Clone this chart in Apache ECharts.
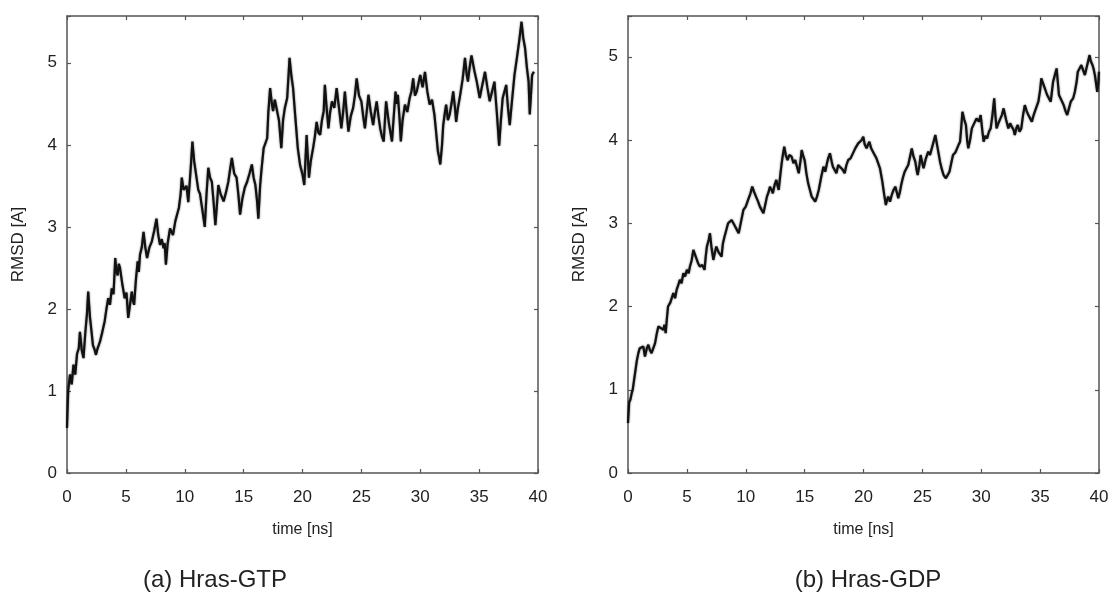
<!DOCTYPE html>
<html>
<head>
<meta charset="utf-8">
<title>RMSD Hras</title>
<script src="https://cdn.jsdelivr.net/npm/echarts@6/dist/echarts.min.js"></script>
<style>
  html, body { margin: 0; padding: 0; background: #fff; }
  #rmsd { width: 1113px; height: 600px; }
</style>
</head>
<body>
<div id="rmsd"></div>
<script>
  // [time ns, RMSD A]
  const gtpPoints = [
    [0,0.55],[0.1,1.0],[0.25,1.2],[0.4,1.08],[0.55,1.32],[0.7,1.2],[0.85,1.45],[1.0,1.52],[1.1,1.72],[1.25,1.5],
    [1.4,1.4],[1.55,1.7],[1.7,1.95],[1.8,2.21],[1.95,1.9],[2.1,1.7],[2.2,1.56],[2.35,1.5],[2.46,1.44],[2.6,1.52],
    [2.8,1.6],[3.0,1.72],[3.2,1.85],[3.35,2.0],[3.5,2.13],[3.65,2.05],[3.8,2.25],[3.95,2.18],[4.1,2.62],[4.2,2.45],
    [4.3,2.41],[4.4,2.55],[4.5,2.5],[4.7,2.3],[4.9,2.13],[5.05,2.2],[5.2,1.89],[5.35,2.05],[5.5,2.21],[5.6,2.1],
    [5.7,2.05],[5.85,2.35],[6.0,2.58],[6.1,2.45],[6.2,2.66],[6.35,2.75],[6.5,2.94],[6.65,2.75],[6.8,2.62],[7.0,2.75],
    [7.2,2.82],[7.4,2.95],[7.6,3.1],[7.75,2.9],[7.9,2.78],[8.05,2.85],[8.2,2.74],[8.3,2.8],[8.4,2.54],[8.55,2.8],
    [8.75,2.98],[9.0,2.9],[9.2,3.07],[9.35,3.15],[9.5,3.23],[9.65,3.4],[9.75,3.6],[9.9,3.45],[10.0,3.43],[10.15,3.5],
    [10.3,3.3],[10.5,3.7],[10.65,4.04],[10.8,3.8],[11.0,3.6],[11.15,3.45],[11.3,3.4],[11.5,3.2],[11.7,3.0],[11.85,3.4],
    [12.0,3.72],[12.15,3.6],[12.3,3.55],[12.45,3.3],[12.6,3.02],[12.75,3.3],[12.85,3.51],[13.05,3.4],[13.3,3.31],[13.5,3.42],
    [13.7,3.55],[13.85,3.7],[14.0,3.84],[14.2,3.65],[14.4,3.6],[14.55,3.4],[14.7,3.15],[14.9,3.35],[15.1,3.48],[15.3,3.55],
    [15.5,3.65],[15.7,3.76],[15.85,3.6],[16.0,3.51],[16.15,3.3],[16.25,3.1],[16.4,3.5],[16.5,3.67],[16.7,3.96],[17.0,4.08],
    [17.1,4.4],[17.25,4.69],[17.4,4.5],[17.5,4.41],[17.65,4.55],[17.8,4.53],[18.0,4.3],[18.2,3.96],[18.35,4.3],[18.5,4.45],
    [18.7,4.57],[18.9,5.06],[19.05,4.85],[19.2,4.69],[19.35,4.41],[19.6,3.96],[19.8,3.75],[20.0,3.64],[20.15,3.51],[20.35,4.12],
    [20.55,3.6],[20.7,3.8],[20.9,3.96],[21.05,4.1],[21.2,4.28],[21.35,4.15],[21.5,4.12],[21.65,4.3],[21.8,4.41],[21.9,4.73],
    [22.05,4.45],[22.2,4.2],[22.35,4.4],[22.5,4.53],[22.7,4.45],[22.9,4.69],[23.1,4.45],[23.3,4.2],[23.45,4.4],[23.6,4.65],
    [23.75,4.4],[23.9,4.16],[24.1,4.35],[24.3,4.45],[24.45,4.6],[24.6,4.81],[24.8,4.6],[25.0,4.53],[25.15,4.35],[25.3,4.2],
    [25.45,4.4],[25.6,4.61],[25.8,4.4],[26.0,4.24],[26.15,4.4],[26.3,4.53],[26.45,4.35],[26.6,4.2],[26.75,4.1],[26.9,4.04],
    [27.0,4.3],[27.1,4.53],[27.35,4.25],[27.6,4.04],[27.75,4.35],[27.9,4.65],[28.0,4.5],[28.1,4.61],[28.25,4.3],[28.35,4.04],
    [28.5,4.3],[28.7,4.49],[28.9,4.4],[29.1,4.57],[29.25,4.65],[29.4,4.81],[29.55,4.6],[29.7,4.65],[29.85,4.75],[30.0,4.85],
    [30.2,4.7],[30.4,4.89],[30.6,4.65],[30.8,4.49],[31.0,4.55],[31.2,4.37],[31.35,4.15],[31.5,3.92],[31.6,3.85],[31.7,3.76],
    [31.85,4.0],[31.95,4.24],[32.1,4.4],[32.2,4.49],[32.35,4.3],[32.5,4.37],[32.65,4.5],[32.8,4.65],[32.95,4.45],[33.05,4.28],
    [33.2,4.45],[33.35,4.57],[33.6,4.8],[33.8,5.06],[33.95,4.85],[34.05,4.77],[34.2,4.95],[34.35,5.09],[34.6,4.9],[34.8,4.77],
    [34.95,4.65],[35.05,4.57],[35.3,4.75],[35.5,4.89],[35.7,4.7],[35.9,4.53],[36.1,4.65],[36.3,4.77],[36.5,4.4],[36.7,3.99],
    [36.85,4.3],[37.0,4.57],[37.15,4.65],[37.3,4.73],[37.45,4.45],[37.6,4.24],[37.8,4.55],[38.0,4.85],[38.2,5.05],[38.4,5.26],
    [38.6,5.5],[38.75,5.3],[38.9,5.18],[39.05,4.95],[39.2,4.77],[39.3,4.37],[39.4,4.6],[39.5,4.85],[39.65,4.89]
  ];

  const gdpPoints = [
    [0,0.6],[0.1,0.85],[0.2,0.88],[0.3,0.95],[0.4,1.0],[0.5,1.1],[0.6,1.2],[0.75,1.35],[0.88,1.44],[1.0,1.5],
    [1.16,1.48],[1.3,1.52],[1.44,1.4],[1.6,1.5],[1.73,1.54],[1.85,1.48],[2.0,1.44],[2.15,1.5],[2.3,1.56],[2.45,1.68],
    [2.58,1.76],[2.8,1.74],[3.0,1.72],[3.1,1.78],[3.2,1.68],[3.3,1.85],[3.4,2.0],[3.6,2.05],[3.85,2.16],[4.0,2.1],
    [4.13,2.2],[4.25,2.25],[4.4,2.32],[4.55,2.28],[4.7,2.4],[4.85,2.36],[5.0,2.44],[5.15,2.4],[5.26,2.48],[5.4,2.55],
    [5.55,2.68],[5.7,2.62],[5.8,2.6],[5.95,2.52],[6.1,2.48],[6.3,2.5],[6.5,2.44],[6.6,2.6],[6.7,2.72],[6.85,2.8],
    [6.96,2.88],[7.1,2.7],[7.25,2.56],[7.4,2.66],[7.5,2.72],[7.7,2.65],[7.95,2.6],[8.05,2.75],[8.2,2.84],[8.35,2.92],
    [8.5,3.0],[8.65,2.98],[8.8,3.04],[8.95,3.0],[9.1,2.96],[9.25,2.92],[9.4,2.88],[9.6,3.02],[9.8,3.16],[10.0,3.2],
    [10.2,3.28],[10.4,3.36],[10.55,3.44],[10.7,3.38],[10.87,3.32],[11.05,3.26],[11.2,3.2],[11.35,3.18],[11.5,3.12],[11.65,3.22],
    [11.8,3.32],[11.95,3.38],[12.05,3.44],[12.2,3.4],[12.3,3.36],[12.45,3.46],[12.6,3.52],[12.7,3.45],[12.8,3.4],[12.95,3.6],
    [13.05,3.72],[13.15,3.82],[13.27,3.92],[13.4,3.82],[13.55,3.76],[13.7,3.82],[13.9,3.8],[14.05,3.72],[14.2,3.76],[14.35,3.68],
    [14.5,3.6],[14.65,3.75],[14.75,3.88],[14.9,3.8],[15.0,3.76],[15.15,3.6],[15.3,3.48],[15.45,3.4],[15.6,3.32],[15.75,3.3],
    [15.9,3.26],[16.05,3.32],[16.2,3.4],[16.4,3.55],[16.6,3.68],[16.75,3.62],[16.9,3.72],[17.0,3.78],[17.15,3.84],[17.3,3.74],
    [17.4,3.68],[17.55,3.66],[17.7,3.6],[17.85,3.7],[18.0,3.72],[18.2,3.65],[18.4,3.6],[18.55,3.7],[18.7,3.76],[18.9,3.78],
    [19.1,3.84],[19.3,3.9],[19.55,3.96],[19.7,3.98],[19.85,4.0],[19.98,4.04],[20.1,3.95],[20.26,3.9],[20.4,3.95],[20.5,3.98],
    [20.65,3.9],[20.8,3.86],[20.95,3.82],[21.1,3.78],[21.25,3.72],[21.4,3.66],[21.5,3.58],[21.6,3.5],[21.75,3.35],[21.9,3.22],
    [22.0,3.28],[22.1,3.32],[22.25,3.26],[22.4,3.34],[22.55,3.4],[22.7,3.44],[22.85,3.36],[22.95,3.3],[23.1,3.38],[23.2,3.46],
    [23.35,3.55],[23.5,3.62],[23.65,3.66],[23.8,3.7],[23.95,3.8],[24.1,3.9],[24.25,3.8],[24.4,3.74],[24.5,3.65],[24.6,3.58],
    [24.75,3.7],[24.85,3.82],[25.0,3.72],[25.1,3.66],[25.3,3.78],[25.5,3.86],[25.65,3.82],[25.8,3.9],[25.95,3.98],[26.1,4.06],
    [26.3,3.9],[26.5,3.74],[26.65,3.65],[26.8,3.58],[27.0,3.54],[27.15,3.58],[27.3,3.62],[27.45,3.72],[27.6,3.82],[27.8,3.85],
    [27.95,3.9],[28.1,3.95],[28.2,3.98],[28.3,4.15],[28.4,4.34],[28.55,4.25],[28.7,4.18],[28.8,4.0],[28.9,3.9],[29.05,4.0],
    [29.2,4.14],[29.4,4.2],[29.6,4.26],[29.8,4.22],[29.95,4.3],[30.1,4.1],[30.2,3.98],[30.35,4.05],[30.5,4.02],[30.65,4.1],
    [30.8,4.14],[30.95,4.3],[31.1,4.5],[31.2,4.3],[31.3,4.14],[31.45,4.2],[31.6,4.22],[31.75,4.3],[31.9,4.38],[32.1,4.25],
    [32.3,4.14],[32.45,4.2],[32.6,4.22],[32.75,4.12],[32.85,4.06],[33.0,4.15],[33.1,4.18],[33.25,4.1],[33.4,4.14],[33.55,4.3],
    [33.7,4.42],[33.85,4.35],[34.0,4.3],[34.15,4.26],[34.3,4.22],[34.45,4.3],[34.55,4.34],[34.7,4.4],[34.85,4.46],[35.0,4.6],
    [35.1,4.74],[35.25,4.68],[35.4,4.62],[35.5,4.58],[35.6,4.54],[35.75,4.5],[35.9,4.46],[36.0,4.58],[36.1,4.7],[36.25,4.78],
    [36.4,4.86],[36.5,4.7],[36.6,4.54],[36.8,4.48],[37.0,4.42],[37.15,4.35],[37.3,4.3],[37.45,4.38],[37.6,4.46],[37.8,4.5],
    [37.95,4.58],[38.1,4.7],[38.2,4.82],[38.35,4.86],[38.5,4.9],[38.65,4.84],[38.8,4.78],[39.0,4.9],[39.2,5.02],[39.3,4.95],
    [39.45,4.9],[39.55,4.85],[39.65,4.78],[39.75,4.68],[39.85,4.58],[39.95,4.7],[40.0,4.82]
  ];

  const panelTitles = ['(a) Hras-GTP', '(b) Hras-GDP'];
  const yMax = [5.57, 5.49];

  const axisColor = '#555';
  const textColor = '#222';
  const font = 'Liberation Sans, Arial, Helvetica, sans-serif';

  let myChart = echarts.init(document.getElementById('rmsd'));

  let grids = [
    {left: 67, top: 16, width: 471, height: 457},
    {left: 628, top: 16, width: 471, height: 457}
  ];

  let xAxes = [], yAxes = [];
  [0, 1].map(i => {
    let line = {show: true, onZero: false, lineStyle: {color: axisColor, width: 1.5}};
    let tick = {show: true, inside: true, length: 4, lineStyle: {color: axisColor, width: 1.2}};
    xAxes.push({
      type: 'value', gridIndex: i, min: 0, max: 40, interval: 5,
      name: 'time [ns]', nameLocation: 'middle', nameGap: 49,
      nameTextStyle: {fontFamily: font, fontSize: 16, color: textColor},
      axisLine: line, axisTick: tick, splitLine: {show: false},
      axisLabel: {fontFamily: font, fontSize: 17, color: textColor, margin: 16}
    });
    xAxes.push({
      type: 'value', gridIndex: i, position: 'top', min: 0, max: 40, interval: 5,
      axisLine: line, axisTick: tick, splitLine: {show: false}, axisLabel: {show: false}
    });
    yAxes.push({
      type: 'value', gridIndex: i, min: 0, max: yMax[i], interval: 1,
      name: 'RMSD [A]', nameLocation: 'middle', nameGap: 40,
      nameTextStyle: {fontFamily: font, fontSize: 17, color: textColor},
      axisLine: line, axisTick: tick, splitLine: {show: false},
      axisLabel: {
        fontFamily: font, fontSize: 17, color: textColor, margin: 10,
        formatter: v => Number.isInteger(v) ? String(v) : ''
      }
    });
    yAxes.push({
      type: 'value', gridIndex: i, position: 'right', min: 0, max: yMax[i], interval: 1,
      axisLine: line, axisTick: tick, splitLine: {show: false}, axisLabel: {show: false}
    });
  });

  myChart.setOption({
    backgroundColor: '#fff',
    animation: false,
    grid: grids,
    xAxis: xAxes,
    yAxis: yAxes,
    graphic: [
      {type: 'text', x: 215, y: 568, style: {text: panelTitles[0], font: '24px ' + font, fill: textColor, textAlign: 'center'}},
      {type: 'text', x: 868, y: 568, style: {text: panelTitles[1], font: '24px ' + font, fill: textColor, textAlign: 'center'}}
    ],
    series: [
      {
        name: 'Hras-GTP', type: 'line', xAxisIndex: 0, yAxisIndex: 0,
        data: gtpPoints, showSymbol: false, smooth: false,
        lineStyle: {color: '#111', width: 2.2, shadowColor: 'rgba(0,0,0,0.6)', shadowBlur: 2}
      },
      {
        name: 'Hras-GDP', type: 'line', xAxisIndex: 2, yAxisIndex: 2,
        data: gdpPoints, showSymbol: false, smooth: false,
        lineStyle: {color: '#111', width: 2.2, shadowColor: 'rgba(0,0,0,0.6)', shadowBlur: 2}
      }
    ]
  });
</script>
</body>
</html>
